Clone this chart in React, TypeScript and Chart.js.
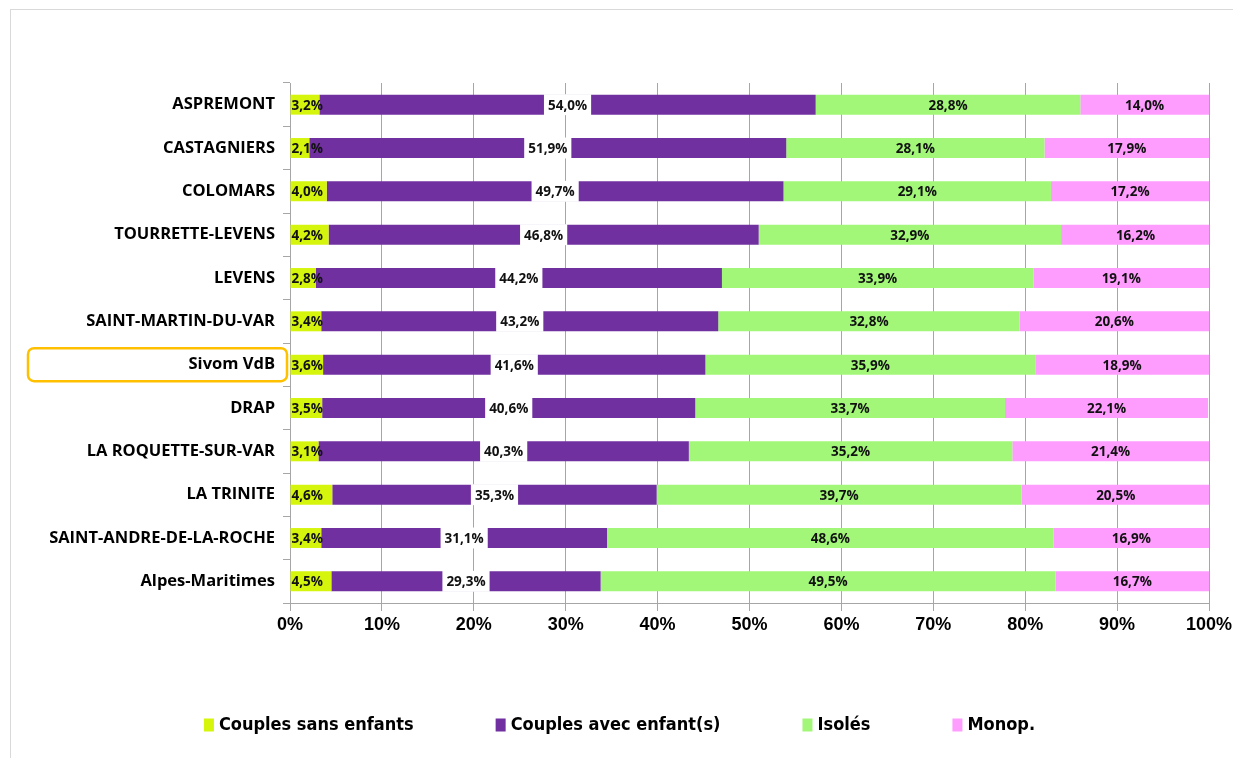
import React, { useEffect, useRef } from "react";
import { Chart, registerables } from "chart.js";

Chart.register(...registerables);

const categories = [
  "ASPREMONT",
  "CASTAGNIERS",
  "COLOMARS",
  "TOURRETTE-LEVENS",
  "LEVENS",
  "SAINT-MARTIN-DU-VAR",
  "Sivom VdB",
  "DRAP",
  "LA ROQUETTE-SUR-VAR",
  "LA TRINITE",
  "SAINT-ANDRE-DE-LA-ROCHE",
  "Alpes-Maritimes",
];

const couplesSansEnfants = [3.2, 2.1, 4.0, 4.2, 2.8, 3.4, 3.6, 3.5, 3.1, 4.6, 3.4, 4.5];
const couplesAvecEnfants = [54.0, 51.9, 49.7, 46.8, 44.2, 43.2, 41.6, 40.6, 40.3, 35.3, 31.1, 29.3];
const isoles = [28.8, 28.1, 29.1, 32.9, 33.9, 32.8, 35.9, 33.7, 35.2, 39.7, 48.6, 49.5];
const monop = [14.0, 17.9, 17.2, 16.2, 19.1, 20.6, 18.9, 22.1, 21.4, 20.5, 16.9, 16.7];

const seriesNames = ["Couples sans enfants", "Couples avec enfant(s)", "Isolés", "Monop."];
const seriesColors = ["#d6f50c", "#7030a0", "#a2f778", "#ff9dff"];
const xTicks = [0, 10, 20, 30, 40, 50, 60, 70, 80, 90, 100];
const highlighted = "Sivom VdB";

const fmt = (v: number) => v.toFixed(1).replace(".", ",") + "%";

const labelPlugin = {
  id: "barLabels",
  afterDatasetsDraw(chart: any) {
    const ctx = chart.ctx;
    ctx.save();
    ctx.font = "bold 13.5px 'Open Sans'";
    ctx.textBaseline = "middle";
    chart.data.datasets.forEach((ds: any, di: number) => {
      const meta = chart.getDatasetMeta(di);
      meta.data.forEach((el: any, i: number) => {
        const p = el.getProps(["x", "y", "base", "height"], true);
        const v = ds.data[i];
        const t = fmt(v);
        const x0 = Math.min(p.x, p.base);
        const x1 = Math.max(p.x, p.base);
        if (di === 0) {
          ctx.textAlign = "left";
          ctx.fillStyle = "#111";
          ctx.fillText(t, x0 + 1, p.y + 1);
        } else if (di === 1) {
          const cx = (x0 + x1) / 2;
          const w = ctx.measureText(t).width + 8;
          ctx.fillStyle = "#ffffff";
          ctx.fillRect(cx - w / 2, p.y - p.height / 2 - 0.5, w, p.height + 1);
          ctx.textAlign = "center";
          ctx.fillStyle = "#111";
          ctx.fillText(t, cx, p.y + 1);
        } else {
          const cx = (x0 + x1) / 2;
          ctx.textAlign = "center";
          ctx.fillStyle = "#111";
          ctx.fillText(t, cx, p.y + 1);
        }
      });
    });
    ctx.restore();
  },
};

const highlightPlugin = {
  id: "highlightBox",
  afterDraw(chart: any) {
    const idx = categories.indexOf(highlighted);
    if (idx < 0) return;
    const y = chart.scales.y.getPixelForValue(idx);
    const ctx = chart.ctx;
    ctx.save();
    ctx.strokeStyle = "#ffc000";
    ctx.lineWidth = 2.5;
    const left = 28;
    const right = chart.scales.y.right - 3;
    const h = 33;
    ctx.beginPath();
    ctx.roundRect(left, y - h / 2, right - left, h, 6);
    ctx.stroke();
    ctx.restore();
  },
};

const legendPlugin = {
  id: "customLegend",
  afterDraw(chart: any) {
    const ctx = chart.ctx;
    ctx.save();
    ctx.font = "bold 18px 'DejaVu Sans Condensed', 'Liberation Sans'";
    ctx.textBaseline = "middle";
    ctx.textAlign = "left";
    const box = 10;
    const boxH = 13;
    const gapText = 5;
    const gapItem = 82;
    const items = chart.data.datasets.map((ds: any) => ({
      text: ds.label,
      color: ds.backgroundColor,
      w: box + gapText + ctx.measureText(ds.label).width,
    }));
    const total = items.reduce((s: number, it: any) => s + it.w, 0) + gapItem * (items.length - 1);
    const cx = 619.5;
    const cy = 725;
    let x = cx - total / 2;
    items.forEach((it: any) => {
      ctx.fillStyle = it.color;
      ctx.fillRect(x, cy - boxH / 2, box, boxH);
      ctx.fillStyle = "#000";
      ctx.fillText(it.text, x + box + gapText, cy);
      x += it.w + gapItem;
    });
    ctx.restore();
  },
};

export default function App() {
  const ref = useRef<HTMLCanvasElement | null>(null);
  useEffect(() => {
    if (!ref.current) return;
    const data = [couplesSansEnfants, couplesAvecEnfants, isoles, monop];
    const chart = new Chart(ref.current, {
      type: "bar",
      data: {
        labels: categories,
        datasets: data.map((d, i) => ({
          label: seriesNames[i],
          data: d,
          backgroundColor: seriesColors[i],
          borderWidth: 0,
          barPercentage: 0.46,
          categoryPercentage: 1,
        })),
      },
      options: {
        indexAxis: "y",
        responsive: false,
        animation: false,
        layout: { padding: { left: 0, right: 24, top: 83, bottom: 115 } },
        plugins: {
          tooltip: { enabled: false },
          legend: { display: false },
        },
        scales: {
          x: {
            stacked: true,
            min: 0,
            max: 100,
            afterBuildTicks(scale: any) {
              scale.ticks = xTicks.map((v) => ({ value: v }));
            },
            afterFit(scale: any) {
              scale.height = 40;
              scale.paddingLeft = 0;
              scale.paddingRight = 0;
            },
            grid: { color: "#a6a6a6", tickLength: 8, lineWidth: 1 },
            border: { color: "#a6a6a6" },
            ticks: {
              color: "#000",
              padding: 3,
              font: { family: "'Liberation Sans'", weight: "bold", size: 18 },
              callback: (v: any) => v + "%",
            },
          },
          y: {
            stacked: true,
            afterFit(scale: any) {
              scale.width = 290;
            },
            grid: { drawOnChartArea: false, offset: true, color: "#a6a6a6", tickLength: 7 },
            border: { color: "#a6a6a6" },
            ticks: {
              color: "#000",
              padding: 8,
              font: { family: "'Open Sans'", weight: "bold", size: 16.5 },
            },
          },
        },
      },
      plugins: [labelPlugin, highlightPlugin, legendPlugin],
    } as any);
    return () => chart.destroy();
  }, []);
  return (
    <div style={{ position: "absolute", left: 0, top: 0, width: 1233, height: 758, overflow: "hidden", background: "#fff" }}>
      <div style={{ position: "absolute", left: 10, top: 9, width: 1300, height: 800, border: "1px solid #d9d9d9" }} />
      <canvas ref={ref} width={1233} height={758} style={{ position: "absolute", left: 0, top: 0 }} />
    </div>
  );
}
